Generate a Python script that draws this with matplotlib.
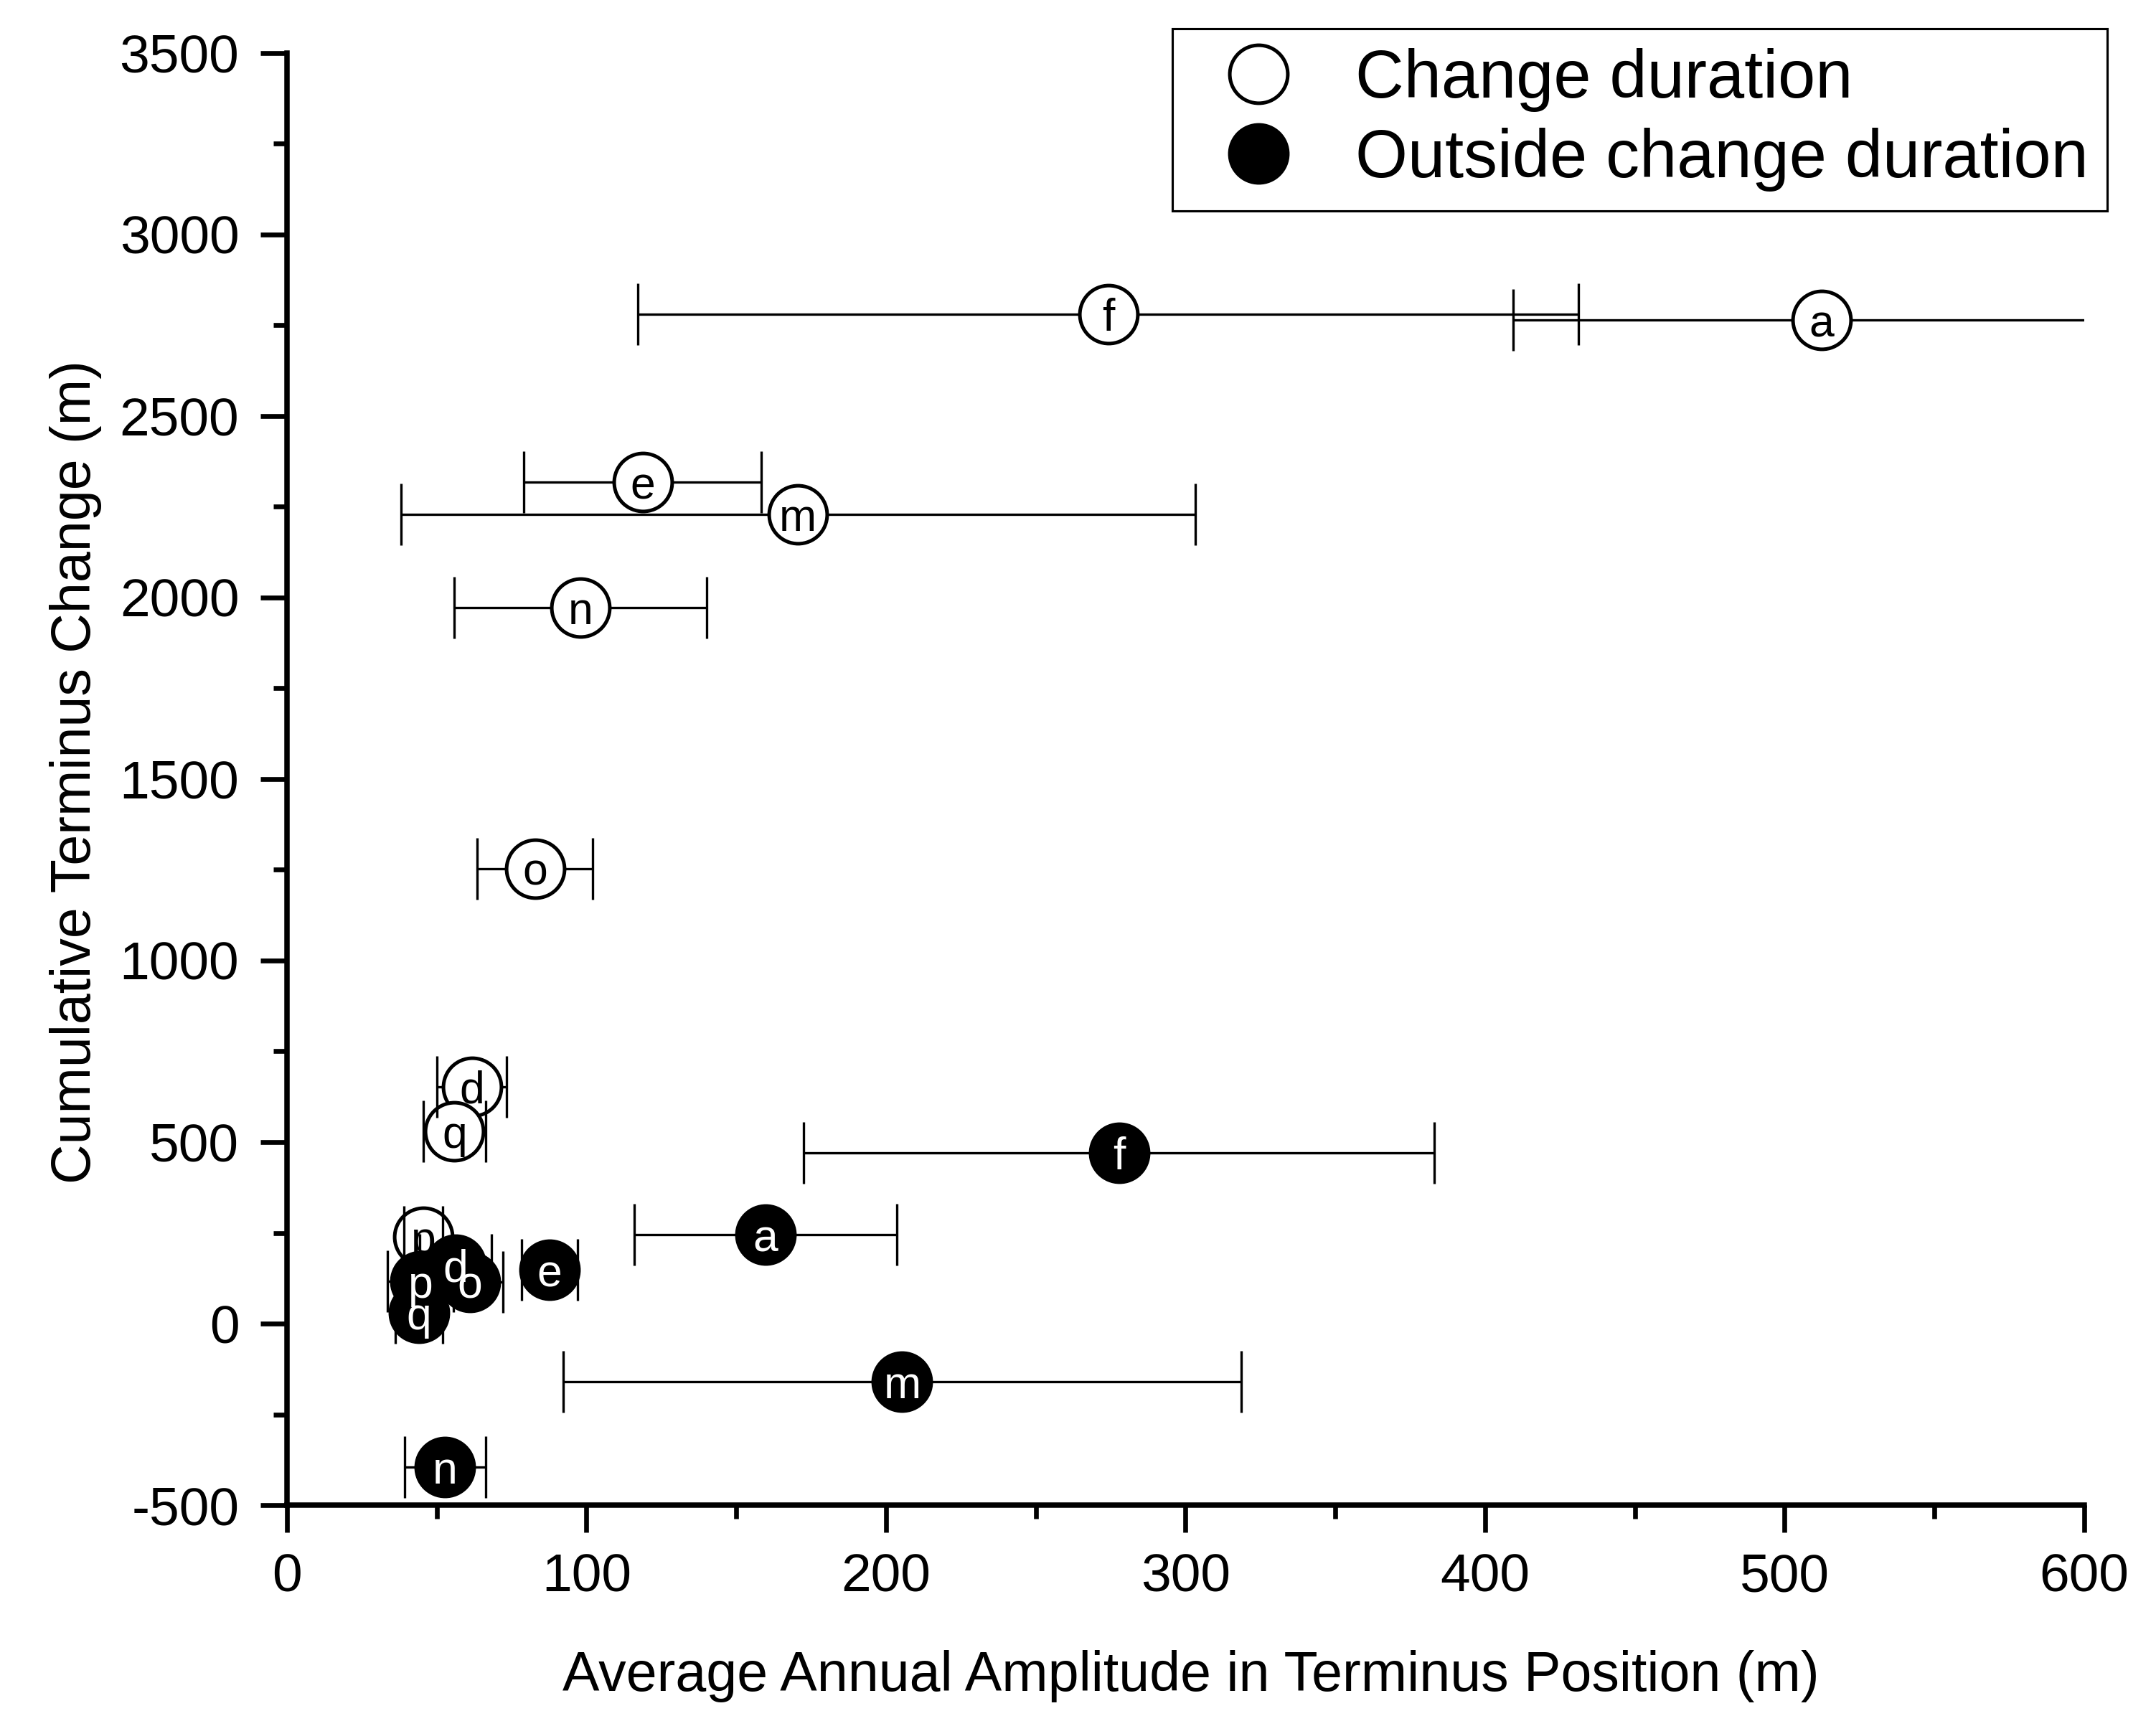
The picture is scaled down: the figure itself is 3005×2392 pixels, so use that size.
import matplotlib
matplotlib.use("Agg")
import matplotlib.pyplot as plt
from matplotlib.lines import Line2D
from matplotlib.ticker import MultipleLocator

plt.rcParams["font.family"] = ["Liberation Sans", "DejaVu Sans"]
plt.rcParams["axes.unicode_minus"] = False

# change duration (open symbols)
labels_open = ["f", "a", "e", "m", "n", "o", "d", "q", "p"]
x_open = [274.2, 512.4, 118.7, 170.6, 98.0, 82.8, 61.7, 55.9, 45.5]
y_open = [2781, 2764, 2318, 2229, 1973, 1253, 653, 529, 240]
xerr_open = [157, 103, 39.7, 132.6, 42.1, 19.2, 11.6, 10.5, 6.5]

# outside change duration (filled symbols)
labels_fill = ["f", "a", "e", "m", "n", "d", "o", "p", "q"]
x_fill = [277.8, 159.7, 87.6, 205.4, 52.8, 56.3, 61.1, 44.6, 44.1]
y_fill = [470, 245, 148, -161, -396, 162, 115, 117, 29]
xerr_fill = [105.3, 43.8, 9.3, 113.2, 13.6, 12, 11, 11, 8]

MS = 19.4
MEW = 1.2

fig = plt.figure(figsize=(3005 / 300, 2392 / 300), dpi=300)
ax = fig.add_axes([0.1331, 0.1229, 0.8336, 0.8462])


def draw_series(x, y, err, labels, face, txtcol, z):
    # bars under the symbols, caps over them (as in the original software)
    eb = ax.errorbar(x, y, xerr=err, fmt="none", ecolor="k", elinewidth=0.8,
                     capsize=10.4, capthick=0.8, zorder=z)
    for cl in eb[1]:
        cl.set_zorder(z + 1.5)
    ax.plot(x, y, "o", ms=MS, mfc=face, mec="k", mew=MEW, zorder=z + 1, ls="none")
    for xi, yi, lb in zip(x, y, labels):
        ax.text(xi, yi, lb, ha="center", va="center_baseline", fontsize=15,
                color=txtcol, zorder=z + 2)


draw_series(x_open, y_open, xerr_open, labels_open, "white", "k", 1)
draw_series(x_fill, y_fill, xerr_fill, labels_fill, "black", "white", 5)

ax.set_xlim(0, 600)
ax.set_ylim(-500, 3500)
ax.xaxis.set_major_locator(MultipleLocator(100))
ax.xaxis.set_minor_locator(MultipleLocator(50))
ax.yaxis.set_major_locator(MultipleLocator(500))
ax.yaxis.set_minor_locator(MultipleLocator(250))

for s in ("top", "right"):
    ax.spines[s].set_visible(False)
for s in ("left", "bottom"):
    ax.spines[s].set_linewidth(1.8)
ax.tick_params(which="major", direction="out", length=9, width=1.6,
               labelsize=18, pad=7)
ax.tick_params(which="minor", direction="out", length=4.5, width=1.6)

ax.set_xlabel("Average Annual Amplitude in Terminus Position (m)", fontsize=18.5)
ax.set_ylabel("Cumulative Terminus Change (m)", fontsize=18.5)
ax.xaxis.set_label_coords(0.503, -0.100)
ax.yaxis.set_label_coords(-0.103, 0.505)

handles = [
    Line2D([], [], ls="none", marker="o", ms=MS, mfc="white", mec="k", mew=MEW),
    Line2D([], [], ls="none", marker="o", ms=MS, mfc="black", mec="k", mew=MEW),
]
leg = ax.legend(handles, ["Change duration", "Outside change duration"],
                loc="upper right", bbox_to_anchor=(1.013, 1.017), fontsize=22.5,
                frameon=True, fancybox=False, edgecolor="k", framealpha=1,
                borderpad=0.29, handlelength=1.98, handletextpad=0.44,
                labelspacing=0.24, borderaxespad=0)
leg.get_frame().set_linewidth(0.75)

fig.savefig("out.png", dpi=300)
